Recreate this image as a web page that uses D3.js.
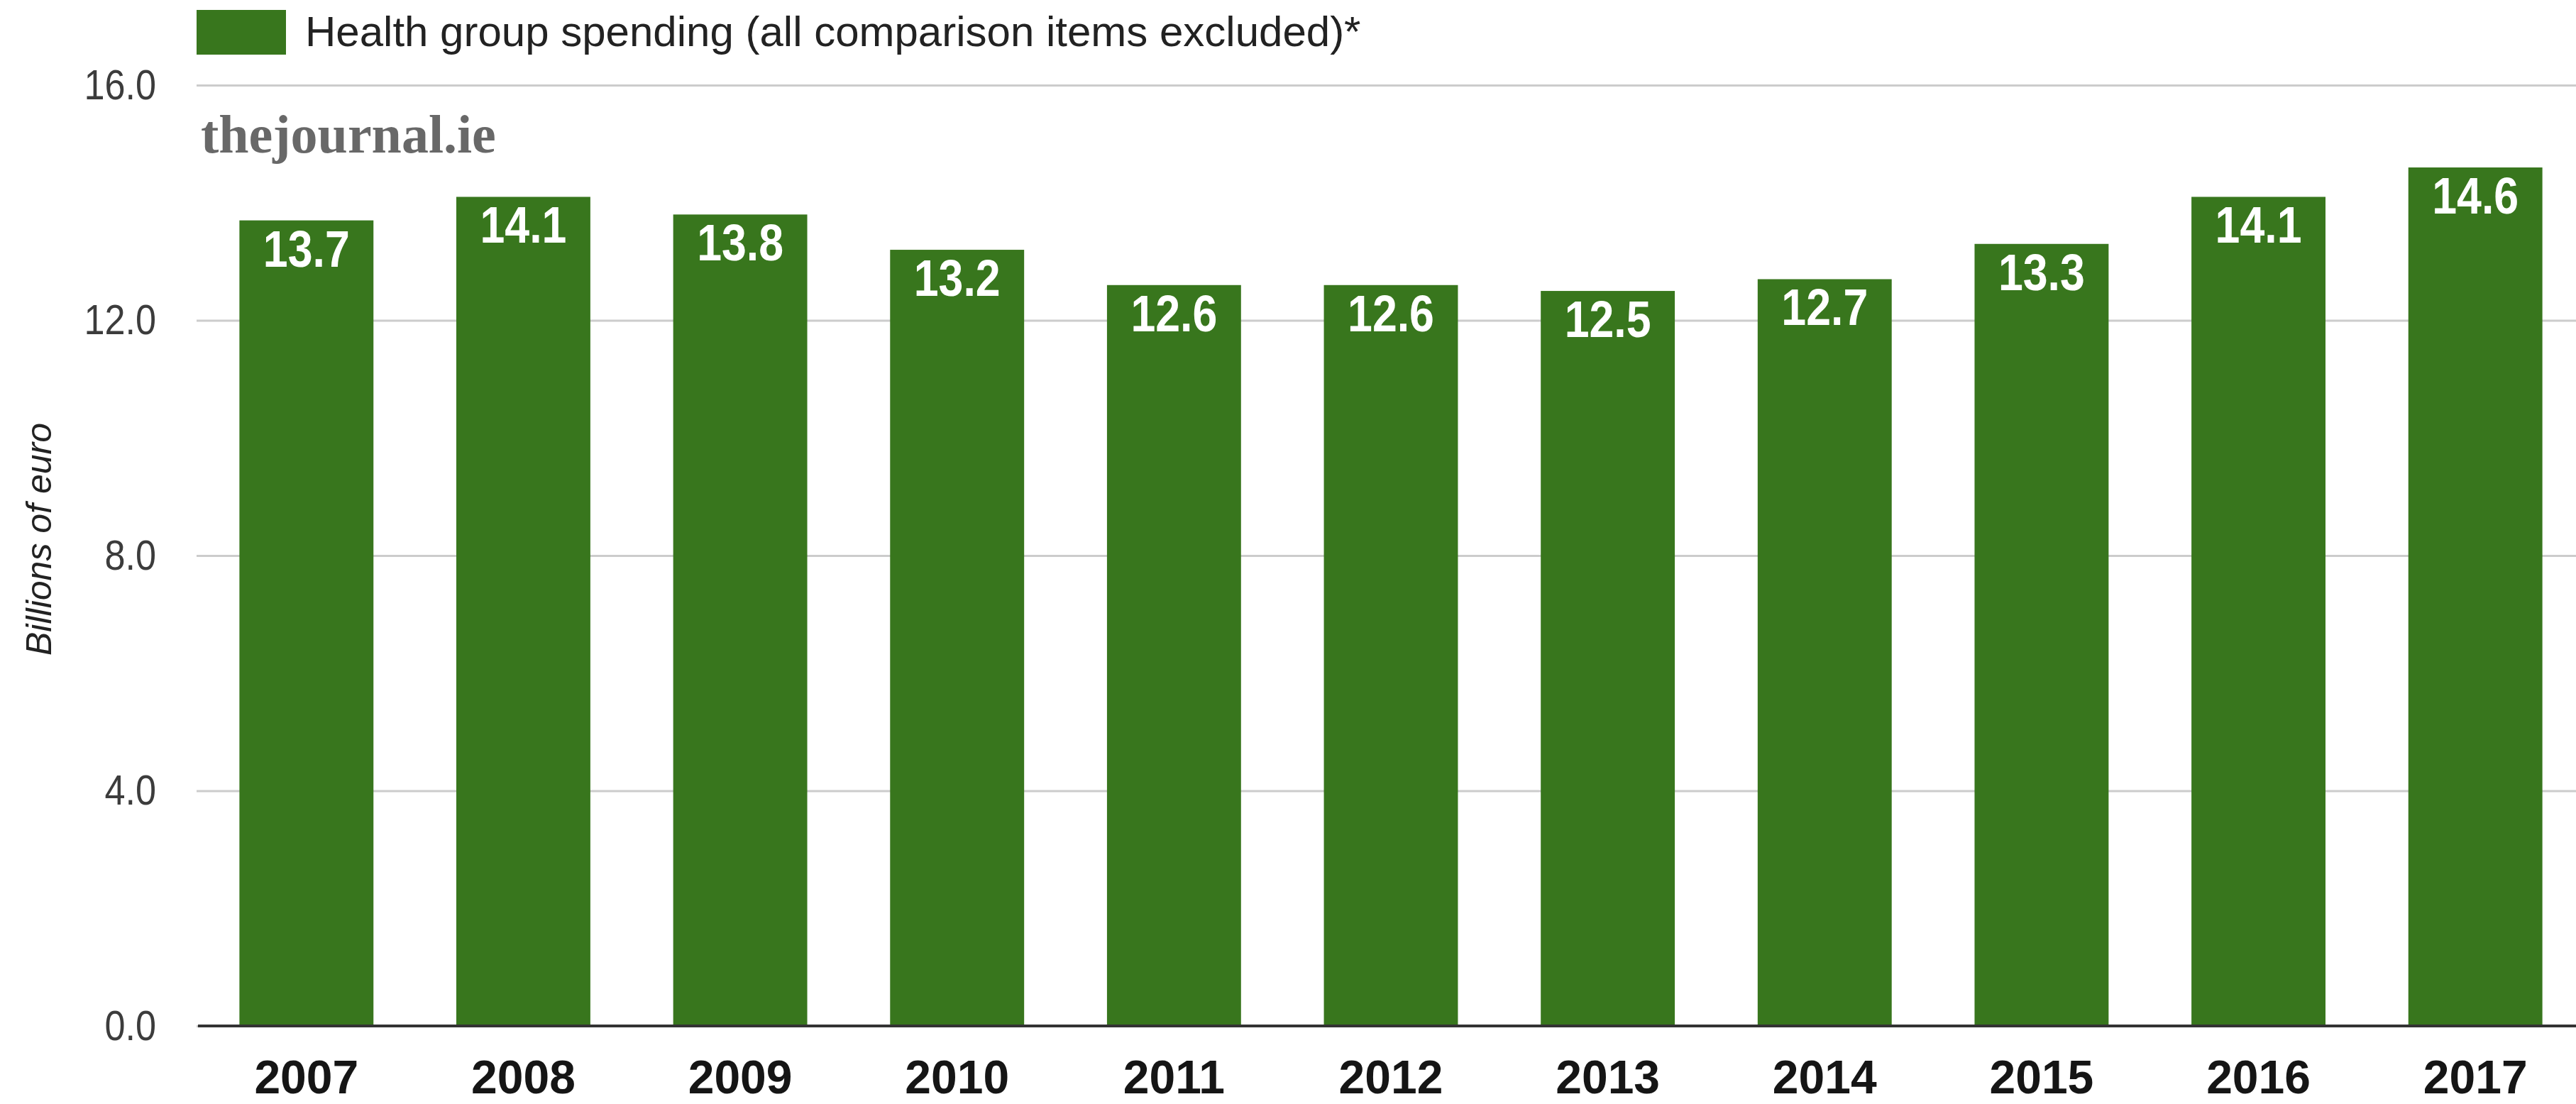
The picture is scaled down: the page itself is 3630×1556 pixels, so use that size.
<!DOCTYPE html>
<html>
<head>
<meta charset="utf-8">
<script src="https://cdn.jsdelivr.net/npm/d3@7"></script>
<style>
  html, body { margin: 0; padding: 0; background: #ffffff; }
  svg { display: block; }
</style>
</head>
<body>
<svg id="chart" width="3630" height="1556"></svg>
<script>
// Health group spending by year, billions of euro
const years = ["2007", "2008", "2009", "2010", "2011", "2012", "2013", "2014", "2015", "2016", "2017"];
const spending = [13.7, 14.1, 13.8, 13.2, 12.6, 12.6, 12.5, 12.7, 13.3, 14.1, 14.6];
const yTicks = [0, 4, 8, 12, 16];
const seriesName = "Health group spending (all comparison items excluded)*";
const axisTitle = "Billions of euro";
const brand = "thejournal.ie";

const W = 3630, H = 1556;
const plot = { left: 277, right: 3641, top: 120, bottom: 1446 };
const barColor = "#38761d";
const squeeze = 0.87;           // horizontal condensing of the numeric labels
const sans = "Arial, 'Liberation Sans', sans-serif";

const svg = d3.select("#chart");

const x = d3.scaleBand()
  .domain(years)
  .range([plot.left + 2, plot.right])
  .paddingInner(0.382)
  .paddingOuter(0.191);

const y = d3.scaleLinear()
  .domain([0, 16])
  .range([plot.bottom, plot.top]);

const rows = years.map((yr, i) => ({ yr, v: spending[i] }));

// Horizontal gridlines and tick labels
const yAxis = d3.axisLeft(y)
  .tickValues(yTicks)
  .tickFormat(d3.format(".1f"))
  .tickSize(-(W - plot.left))
  .tickPadding(57 / squeeze);

const gy = svg.append("g")
  .attr("transform", `translate(${plot.left},0)`)
  .call(yAxis);
gy.select(".domain").remove();
gy.selectAll(".tick line")
  .attr("stroke", "#cccccc")
  .attr("stroke-width", 3);
gy.selectAll(".tick text")
  .attr("transform", `scale(${squeeze},1)`)
  .attr("font-family", sans)
  .attr("font-size", 60)
  .attr("fill", "#3c3c3c");

// Brand mark inside the plot area
svg.append("text")
  .attr("x", 283)
  .attr("y", 215)
  .attr("font-family", "'Liberation Serif', 'DejaVu Serif', serif")
  .attr("font-weight", "bold")
  .attr("font-size", 76)
  .attr("fill", "#686868")
  .text(brand);

// Bars
svg.append("g")
  .selectAll("rect")
  .data(rows)
  .join("rect")
  .attr("x", d => x(d.yr))
  .attr("width", x.bandwidth())
  .attr("y", d => y(d.v))
  .attr("height", d => y(0) - y(d.v))
  .attr("fill", barColor);

// Zero baseline drawn over the bars
svg.append("line")
  .attr("x1", plot.left + 2)
  .attr("x2", W)
  .attr("y1", y(0))
  .attr("y2", y(0))
  .attr("stroke", "#333333")
  .attr("stroke-width", 4);

// Value labels inside the top of each bar
svg.append("g")
  .selectAll("text")
  .data(rows)
  .join("text")
  .attr("transform", d => `translate(${x(d.yr) + x.bandwidth() / 2},${y(d.v) + 65}) scale(${squeeze},1)`)
  .attr("text-anchor", "middle")
  .attr("font-family", sans)
  .attr("font-weight", "bold")
  .attr("font-size", 72)
  .attr("fill", "#ffffff")
  .text(d => d.v.toFixed(1));

// Category labels under the baseline
const xAxis = d3.axisBottom(x).tickSize(0).tickPadding(0);
const gx = svg.append("g")
  .attr("transform", `translate(0,${plot.bottom})`)
  .call(xAxis);
gx.select(".domain").remove();
gx.selectAll(".tick text")
  .attr("y", 95)
  .attr("dy", 0)
  .attr("font-family", sans)
  .attr("font-weight", "bold")
  .attr("font-size", 66)
  .attr("fill", "#151515");
gx.selectAll(".tick").attr("transform", d => `translate(${x(d) + x.bandwidth() / 2},0)`);

// Vertical axis title
svg.append("text")
  .attr("transform", `translate(72,760) rotate(-90)`)
  .attr("text-anchor", "middle")
  .attr("font-family", sans)
  .attr("font-style", "italic")
  .attr("font-size", 50)
  .attr("fill", "#222222")
  .text(axisTitle);

// Legend
const legend = svg.append("g").attr("transform", "translate(277,14)");
legend.append("rect")
  .attr("width", 126)
  .attr("height", 63)
  .attr("fill", barColor);
legend.append("text")
  .attr("x", 153)
  .attr("y", 51)
  .attr("font-family", sans)
  .attr("font-size", 60)
  .attr("fill", "#222222")
  .text(seriesName);
</script>
</body>
</html>
